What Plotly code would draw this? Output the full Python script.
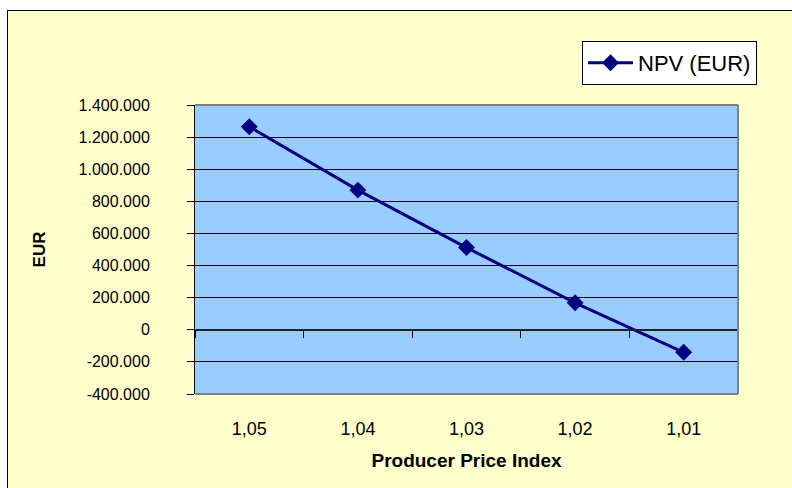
import plotly.graph_objects as go

# Net present value for each producer price index scenario
ppi_labels = ["1,05", "1,04", "1,03", "1,02", "1,01"]
npv_eur = [1265000, 870000, 512000, 168000, -140000]

# Value axis ticks
y_ticks = [-400000, -200000, 0, 200000, 400000, 600000, 800000, 1000000, 1200000, 1400000]
y_tick_text = [f"{v:,}".replace(",", ".") for v in y_ticks]

W, H = 792, 488
L, R, T, B = 195, 738, 105, 394  # plot area in pixels


def px_x(px):
    return (px - L) / (R - L)


def px_y(py):
    return (B - py) / (B - T)


FONT = "Liberation Sans, Arial, sans-serif"
NAVY = "#000080"

fig = go.Figure()

fig.add_trace(go.Scatter(
    x=ppi_labels, y=npv_eur, name="NPV (EUR)", mode="lines+markers",
    line=dict(color=NAVY, width=3),
    marker=dict(symbol="diamond", size=13, color=NAVY),
    hoverinfo="x+y",
))

# carrier for the category axis that crosses at zero
fig.add_trace(go.Scatter(
    x=ppi_labels, y=npv_eur, xaxis="x2", mode="lines",
    line=dict(width=0), showlegend=False, hoverinfo="skip", opacity=0,
))

y_min, y_max = y_ticks[0], y_ticks[-1]
zero_pos = (0 - y_min) / (y_max - y_min)
n = len(ppi_labels)

fig.update_layout(
    width=W, height=H,
    margin=dict(l=L, r=W - R, t=T, b=H - B, pad=0),
    paper_bgcolor="#FFFFCC",
    plot_bgcolor="#99CCFF",
    font=dict(family=FONT, color="black", size=14),
    showlegend=True,
    legend=dict(
        x=px_x(582), y=px_y(41), xanchor="left", yanchor="top",
        bgcolor="white", bordercolor="black", borderwidth=1,
        font=dict(size=22, family=FONT),
        itemwidth=45, tracegroupgap=0,
    ),
    xaxis=dict(
        type="category", range=[-0.5, n - 0.5],
        showgrid=False, showline=False, zeroline=False, ticks="",
        tickfont=dict(size=18), ticklabelstandoff=22,
        title=dict(text="<b>Producer Price Index</b>",
                   font=dict(size=19), standoff=15),
        fixedrange=True,
    ),
    xaxis2=dict(
        type="category", range=[-0.5, n - 0.5], overlaying="x",
        anchor="free", position=zero_pos, side="bottom",
        showgrid=False, zeroline=False, showticklabels=False,
        showline=True, linecolor="#202020", linewidth=1.5,
        ticks="outside", tickson="boundaries", ticklen=7, tickcolor="black", tickwidth=1,
        fixedrange=True,
    ),
    yaxis=dict(
        range=[y_min, y_max], tickvals=y_ticks, ticktext=y_tick_text,
        showgrid=True, gridcolor="black", gridwidth=1,
        zeroline=False, showline=True, linecolor="black", linewidth=1,
        ticks="outside", ticklen=7, tickcolor="black",
        tickfont=dict(size=16), ticklabelstandoff=34,
        title=dict(text="<b>EUR</b>", font=dict(size=17), standoff=28),
        fixedrange=True,
    ),
    shapes=[
        # plot area border (top, right, bottom)
        dict(type="line", xref="paper", yref="paper", x0=0, x1=1, y0=1, y1=1,
             line=dict(color="#808080", width=2)),
        dict(type="line", xref="paper", yref="paper", x0=1, x1=1, y0=0, y1=1,
             line=dict(color="#808080", width=2)),
        dict(type="line", xref="paper", yref="paper", x0=0, x1=1, y0=0, y1=0,
             line=dict(color="#808080", width=2)),
        # white margin around the chart frame
        dict(type="rect", xref="paper", yref="paper",
             x0=px_x(-5), x1=px_x(W + 5), y0=px_y(10), y1=px_y(-5),
             fillcolor="white", line=dict(width=0), layer="below"),
        dict(type="rect", xref="paper", yref="paper",
             x0=px_x(-5), x1=px_x(7), y0=px_y(H + 5), y1=px_y(-5),
             fillcolor="white", line=dict(width=0), layer="below"),
        # chart frame
        dict(type="line", xref="paper", yref="paper",
             x0=px_x(7), x1=px_x(W + 5), y0=px_y(10.5), y1=px_y(10.5),
             line=dict(color="black", width=1)),
        dict(type="line", xref="paper", yref="paper",
             x0=px_x(7.5), x1=px_x(7.5), y0=px_y(10), y1=px_y(H + 5),
             line=dict(color="black", width=1)),
    ],
)

fig.write_html("out.html")
